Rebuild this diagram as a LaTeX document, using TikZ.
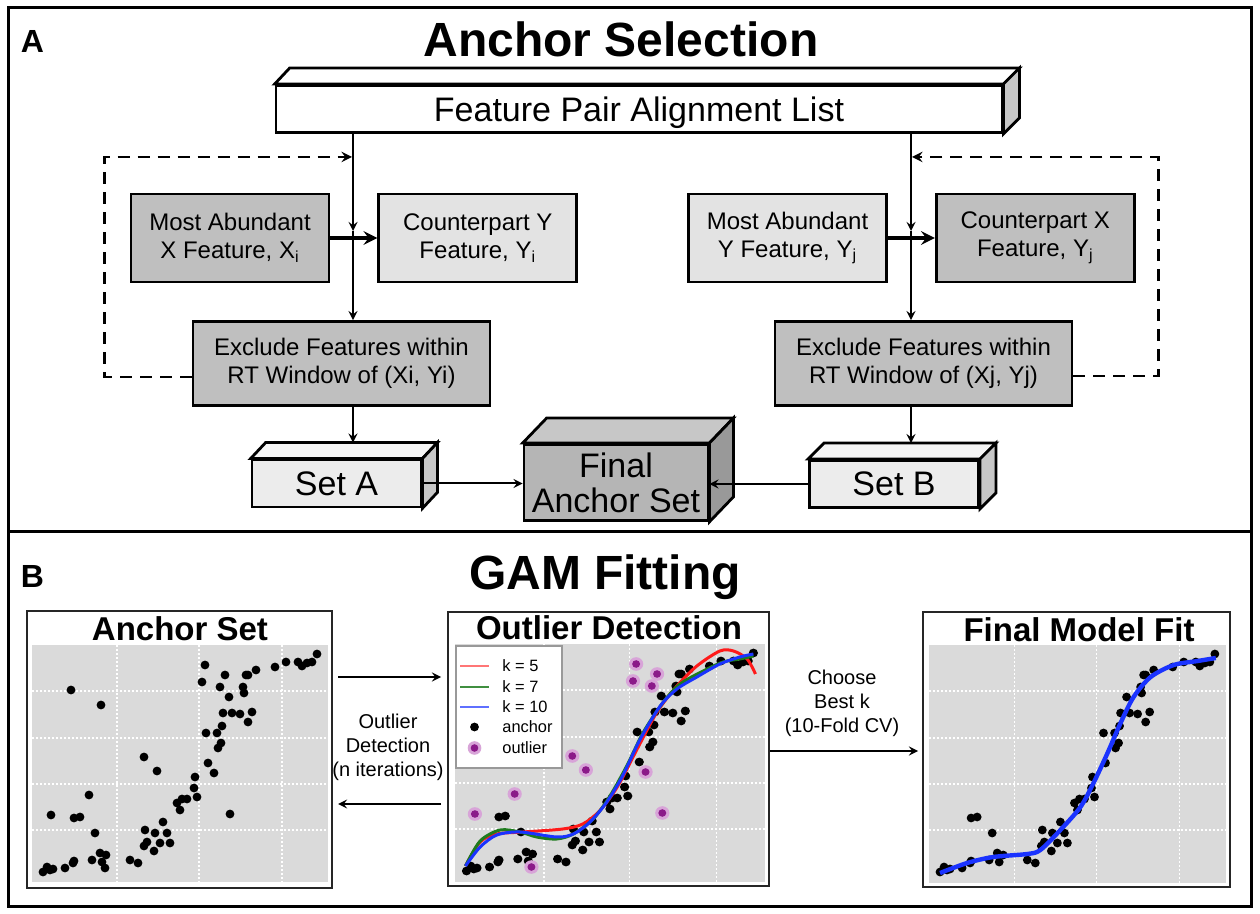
\documentclass[tikz,border=0pt]{standalone}
\usepackage{fontspec}
\setmainfont{Liberation Sans}
\usepackage{tikz}
\usetikzlibrary{arrows,positioning,calc}

\definecolor{boxdark}{gray}{0.75}
\definecolor{boxlight}{gray}{0.89}
\definecolor{setface}{gray}{0.925}
\definecolor{settop}{gray}{0.96}
\definecolor{setside}{gray}{0.78}
\definecolor{finalface}{gray}{0.71}
\definecolor{finaltop}{gray}{0.78}
\definecolor{finalside}{gray}{0.60}
\definecolor{plotbg}{gray}{0.855}
\definecolor{outlierin}{HTML}{8B1A89}
\definecolor{outlierhalo}{HTML}{D8A4D8}
\definecolor{fitred}{HTML}{FF1A1A}
\definecolor{fitgreen}{HTML}{1E7B1E}
\definecolor{fitblue}{HTML}{1A33FF}

% data points, relative to the plot area (px)
\newcommand{\anchorpts}{214/30, 216/30, 224/25, 243/22, 254/17, 266/17, 270/21, 275/18, 280/17, 285/9,
  211/42, 212/48, 197/52, 191/68, 200/68, 208/69, 220/67, 216/77, 174/88, 185/88, 190/81,
  189/98, 186/103, 176/118, 163/132, 162/143, 165/152, 145/158, 150/154, 155/154, 148/165,
  42/173, 48/172, 63/188, 131/177, 113/185, 123/188, 135/188, 138/198, 128/198, 115/197,
  112/201, 122/206, 68/208, 74/210, 70/217, 60/215, 98/215, 106/218, 42/216, 41/218,
  33/223, 11/227, 15/222, 18/225, 21/224}
\newcommand{\outlierpts}{39/45, 69/60, 173/20, 170/37, 193/30, 188/42, 112/112, 125/126,
  182/128, 57/150, 19/170, 198/169, 73/223}

\begin{document}
\begin{tikzpicture}[x=0.5pt, y=-0.5pt, node distance=24pt,
	box/.style={rectangle, draw, line width=1.4pt, align=center, inner sep=0pt, font=\fontsize{12}{14}\selectfont},
	setbox/.style={box, fill=setface, minimum width=84.5pt, minimum height=23.5pt, font=\fontsize{17}{17}\selectfont},
	arr/.style={-stealth, line width=1pt},
	thickarr/.style={-stealth, line width=2pt},
	backarr/.style={-stealth, line width=1.3pt, dash pattern=on 6pt off 4pt},
	plotframe/.style={rectangle, draw=black!85, line width=1pt, inner sep=0pt},
	heading/.style={font=\fontsize{24}{24}\selectfont\bfseries, anchor=base},
	panel/.style={font=\fontsize{16}{16}\selectfont\bfseries, anchor=base},
	plottitle/.style={font=\fontsize{16.5}{16.5}\selectfont\bfseries, anchor=base},
	arrlabel/.style={align=center, font=\fontsize{10}{12}\selectfont},
	legtext/.style={anchor=west, inner sep=0pt, font=\fontsize{8.2}{9}\selectfont},
	gridline/.style={white, line width=0.6pt, dash pattern=on 1pt off 1pt}]
	\useasboundingbox (0,0) rectangle (1260,914);
	\draw[line width=1.5pt] (8,8) rectangle (1251,906);
	\draw[line width=1.5pt] (8,532) -- (1251,532);

	% panel A
	\node[panel] (labA) at (32.5,53) {A};
	\node[heading] (titleA) at (621,57) {Anchor Selection};
	\node[box, fill=white, minimum width=363pt, minimum height=23.5pt, font=\fontsize{17}{17}\selectfont, text height=12.2pt, text depth=0pt] (pairlist) at (639,109) {Feature Pair Alignment List};
	\filldraw[fill=white, line width=1.4pt] (pairlist.north west) -- ++(15,-16) -- ($(pairlist.north east)+(16,-16)$) -- (pairlist.north east) -- cycle;
	\filldraw[fill=setside, line width=1.4pt] (pairlist.north east) -- ++(16,-16) -- ($(pairlist.south east)+(16,-16)$) -- (pairlist.south east) -- cycle;

	\node[box, fill=boxdark, minimum width=99pt, minimum height=44pt] (mostX) at (230,238) {Most Abundant\\X Feature, X\textsubscript{i}};
	\node[box, fill=boxlight, minimum width=99pt, minimum height=44pt, right=23.5pt of mostX] (cpY) {Counterpart Y\\Feature, Y\textsubscript{i}};
	\node[box, fill=boxlight, minimum width=99pt, minimum height=44pt] (mostY) at (787.5,238) {Most Abundant\\Y Feature, Y\textsubscript{j}};
	\node[box, fill=boxdark, minimum width=99pt, minimum height=44pt, right=23.5pt of mostY] (cpX) {Counterpart X\\Feature, Y\textsubscript{j}};
	\node[box, fill=boxdark, minimum width=148.5pt, minimum height=42pt] (exclA) at (341.5,363.5) {Exclude Features within\\RT Window of (Xi, Yi)};
	\node[box, fill=boxdark, minimum width=148.5pt, minimum height=42pt] (exclB) at (923.5,363.5) {Exclude Features within\\RT Window of (Xj, Yj)};

	\node[setbox] (setA) at (336.5,483.5) {Set A};
	\filldraw[fill=settop, line width=1.4pt] (setA.north west) -- ++(15,-16) -- ($(setA.north east)+(15,-16)$) -- (setA.north east) -- cycle;
	\filldraw[fill=setside, line width=1.4pt] (setA.north east) -- ++(15,-16) -- ($(setA.south east)+(15,-16)$) -- (setA.south east) -- cycle;
	\node[setbox] (setB) at (894,484) {Set B};
	\filldraw[fill=settop, line width=1.4pt] (setB.north west) -- ++(16,-16) -- ($(setB.north east)+(16,-16)$) -- (setB.north east) -- cycle;
	\filldraw[fill=setside, line width=1.4pt] (setB.north east) -- ++(16,-16) -- ($(setB.south east)+(16,-16)$) -- (setB.south east) -- cycle;
	\node[box, fill=finalface, minimum width=92pt, minimum height=38pt, font=\fontsize{17}{17.5}\selectfont] (final) at (616,482.5) {Final\\Anchor Set};
	\filldraw[fill=finaltop, line width=1.4pt] (final.north west) -- ++(24,-25) -- ($(final.north east)+(24,-25)$) -- (final.north east) -- cycle;
	\filldraw[fill=finalside, line width=1.4pt] (final.north east) -- ++(24,-25) -- ($(final.south east)+(24,-25)$) -- (final.south east) -- cycle;

	\coordinate (jl) at (353,231);
	\coordinate (jr) at (911,231);
	\coordinate (dl) at (352,157);
	\coordinate (dr) at (912,157);
	\coordinate (topA) at ($(setA.north)+(0,-16)$);
	\coordinate (topB) at ($(setB.north)+(0,-16)$);

	\draw[arr] (pairlist.south -| jl) -- (jl);
	\draw[arr] (jl) -- (jl |- exclA.north);
	\draw[arr] (exclA.south -| jl) -- (jl |- topA);
	\draw[arr] (pairlist.south -| jr) -- (jr);
	\draw[arr] (jr) -- (jr |- exclB.north);
	\draw[arr] (exclB.south -| jr) -- (jr |- topB);
	\draw[thickarr] (mostX) -- (cpY);
	\draw[thickarr] (mostY) -- (cpX);
	\draw[backarr] ($(exclA.west)+(0,13.5)$) -- ++(-87,0) |- (dl);
	\draw[backarr] ($(exclB.east)+(0,12.5)$) -- ++(85,0) |- (dr);
	\draw[arr] (setA.east) -- (setA.east -| final.west);
	\draw[arr] (setB.west) -- (setB.west -| final.east);

	% panel B
	\node[panel] (labB) at (32.5,588) {B};
	\node[heading] (titleB) at (605,590) {GAM Fitting};

	\node[plotframe, minimum width=152.5pt, minimum height=138.5pt] (pA) at (179.5,749.5) {};
	\node[plotframe, minimum width=160.5pt, minimum height=137pt] (pB) at (608.5,749) {};
	\node[plotframe, minimum width=153.5pt, minimum height=137.5pt] (pC) at (1076.5,749.5) {};
	\node[plottitle] (tA) at (180,641) {Anchor Set};
	\node[plottitle] (tB) at (609,640) {Outlier Detection};
	\node[plottitle] (tC) at (1079,642) {Final Model Fit};

	% anchor set
	\begin{scope}[shift={(32,645)}]
		\fill[plotbg] (0,0) rectangle (296,237);
		\foreach \g in {85,167,250} \draw[gridline] (\g,0) -- (\g,237);
		\foreach \g in {46,93,139,185} \draw[gridline] (0,\g) -- (296,\g);
		\foreach \x/\y in \anchorpts {\fill (\x,\y) circle (2.2pt);}
		\foreach \x/\y in \outlierpts {\fill (\x,\y) circle (2.2pt);}
	\end{scope}

	% outlier detection
	\begin{scope}[shift={(455,644)}, xscale=1.047]
		\fill[plotbg] (0,0) rectangle (296,238);
		\foreach \g in {85,167,250} \draw[gridline] (\g,0) -- (\g,238);
		\foreach \g in {46,93,139,185} \draw[gridline] (0,\g) -- (296,\g);
		\foreach \x/\y in \anchorpts {\fill (\x,\y) circle (2.2pt);}
		\foreach \x/\y in \outlierpts {\fill[outlierhalo] (\x,\y) circle (3.4pt); \fill[outlierin] (\x,\y) circle (1.9pt);}
		\draw[fitred, line width=1.5pt] plot[smooth] coordinates {(10,222) (24,198) (40,190) (65,188) (103,185) (122,180) (138,167) (155,143) (174,105) (193,68) (212,42) (231,22) (253,7) (266,7) (279,15) (287,30)};
		\draw[fitgreen, line width=1.5pt] plot[smooth] coordinates {(10,222) (24,197) (43,186) (62,188) (78,193) (97,195) (113,190) (132,175) (148,152) (164,122) (180,88) (199,58) (215,40) (237,27) (256,18) (272,15) (285,12)};
		\draw[fitblue, line width=1.5pt] plot[smooth] coordinates {(10,222) (24,203) (40,191) (62,188) (97,193) (113,190) (129,178) (145,158) (160,132) (177,95) (196,62) (212,45) (231,33) (253,20) (272,13) (285,10)};
	\end{scope}
	\filldraw[fill=white, draw=black!40, line width=0.6pt] (456,646) rectangle (562,768);
	\draw[fitred!60, line width=1pt] (460,666) -- (489,666);
	\draw[fitgreen!85, line width=1pt] (460,687) -- (489,687);
	\draw[fitblue!70, line width=1pt] (460,707) -- (489,707);
	\fill (474.5,727) circle (2.2pt);
	\fill[outlierhalo] (474.5,748) circle (3.4pt);
	\fill[outlierin] (474.5,748) circle (1.9pt);
	\node[legtext] (lk5) at (502,666) {k = 5};
	\node[legtext] (lk7) at (502,687) {k = 7};
	\node[legtext] (lk10) at (502,707) {k = 10};
	\node[legtext] (lanc) at (502,727) {anchor};
	\node[legtext] (lout) at (502,748) {outlier};

	% final model fit
	\begin{scope}[shift={(929,645)}, xscale=1.003]
		\fill[plotbg] (0,0) rectangle (296,238);
		\foreach \g in {85,167,250} \draw[gridline] (\g,0) -- (\g,238);
		\foreach \g in {46,93,139,185} \draw[gridline] (0,\g) -- (296,\g);
		\foreach \x/\y in \anchorpts {\fill (\x,\y) circle (2.2pt);}
		\draw[fitblue, line width=2.2pt] plot[smooth] coordinates {(11,228) (38,218) (64,212) (98,209) (111,205) (131,185) (151,162) (164,138) (178,108) (191,78) (204,52) (221,32) (244,20) (268,16) (286,13)};
	\end{scope}

	\coordinate (ua) at (0,677);
	\coordinate (ub) at (0,804);
	\coordinate (uc) at (0,751);
	\draw[arr, shorten <=2.5pt, shorten >=3pt] (pA.east |- ua) -- (pB.west |- ua);
	\draw[arr, shorten <=3pt, shorten >=2.5pt] (pB.west |- ub) -- (pA.east |- ub);
	\draw[arr, shorten >=2pt] (pB.east |- uc) -- (pC.west |- uc);
	\node[arrlabel] (lblOD) at (388,747) {Outlier\\Detection\\(n iterations)};
	\node[arrlabel] (lblCV) at (842,703) {Choose\\Best k\\(10-Fold CV)};
\end{tikzpicture}
\end{document}
